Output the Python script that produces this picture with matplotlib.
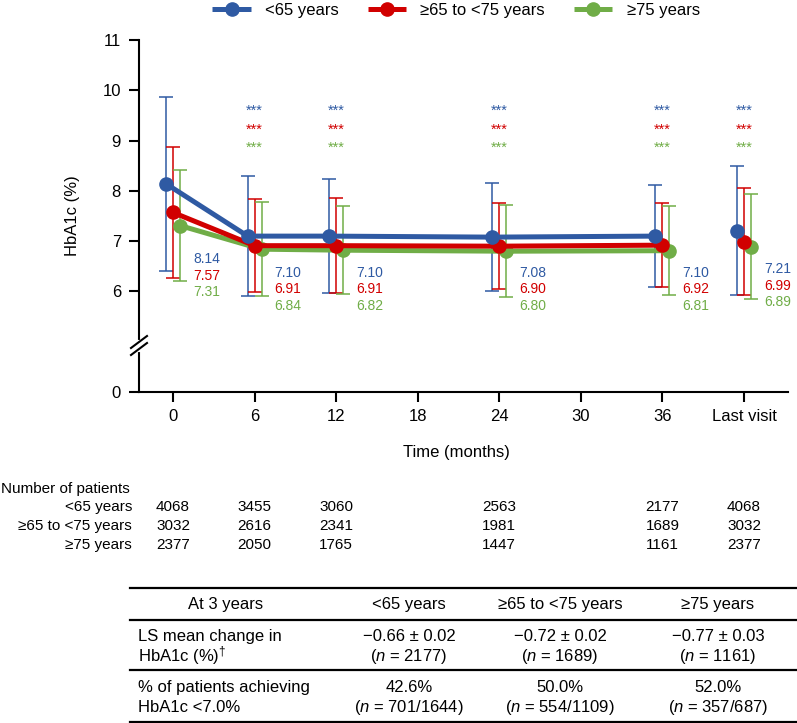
import matplotlib
matplotlib.use('Agg')
import matplotlib.pyplot as plt
import matplotlib.transforms as mtransforms
from matplotlib.lines import Line2D

plt.rcParams['font.family'] = ['Liberation Sans', 'DejaVu Sans']
plt.rcParams['mathtext.fontset'] = 'custom'
plt.rcParams['mathtext.rm'] = 'Liberation Sans'
plt.rcParams['mathtext.it'] = 'Liberation Sans:italic'

# x axis categories; data exists only for some of them
time_labels = ['0', '6', '12', '18', '24', '30', '36', 'Last visit']
visit_slots = [0, 1, 2, 4, 6, 7]

groups = ['<65 years', '≥65 to <75 years', '≥75 years']
colors = ['#2F5AA3', '#D10000', '#70AD47']

# HbA1c mean and SD (%) per visit
mean_lt65 = [8.14, 7.10, 7.10, 7.08, 7.10, 7.21]
mean_65_75 = [7.57, 6.91, 6.91, 6.90, 6.92, 6.99]
mean_ge75 = [7.31, 6.84, 6.82, 6.80, 6.81, 6.89]
sd_lt65 = [1.73, 1.19, 1.13, 1.08, 1.01, 1.28]
sd_65_75 = [1.30, 0.92, 0.94, 0.86, 0.83, 1.06]
sd_ge75 = [1.11, 0.93, 0.88, 0.92, 0.89, 1.04]

# visits marked *** (slots)
sig_slots = [1, 2, 4, 6, 7]

# number of patients
n_lt65 = [4068, 3455, 3060, 2563, 2177, 4068]
n_65_75 = [3032, 2616, 2341, 1981, 1689, 3032]
n_ge75 = [2377, 2050, 1765, 1447, 1161, 2377]

# summary table at 3 years
table_head = ['At 3 years', '<65 years', '≥65 to <75 years', '≥75 years']
ls_change = ['−0.66 ± 0.02', '−0.72 ± 0.02', '−0.77 ± 0.03']
ls_n = ['2177', '1689', '1161']
pct_goal = ['42.6%', '50.0%', '52.0%']
goal_n = ['701/1644', '554/1109', '357/687']

means = [mean_lt65, mean_65_75, mean_ge75]
sds = [sd_lt65, sd_65_75, sd_ge75]
counts = [n_lt65, n_65_75, n_ge75]

W, H = 797, 723
fig = plt.figure(figsize=(W / 100, H / 100), dpi=100)

def fx(px):
    return px / W

def fy(py):
    return 1 - py / H

ax = fig.add_axes([fx(139), fy(392), fx(788) - fx(139), fy(40) - fy(392)])
ax.set_xlim(-0.417, 7.54)
ax.set_ylim(4, 11)   # 0 is drawn at position 4 (broken axis)

offsets = [-0.085, 0.0, 0.085]
handles = []
for k in range(3):
    xs = [s + offsets[k] for s in visit_slots]
    ax.errorbar(xs, means[k], yerr=sds[k], fmt='none', ecolor=colors[k],
                elinewidth=1.1, capsize=5, capthick=1.1, zorder=2)
for k in [2, 1, 0]:
    xs = [s + offsets[k] for s in visit_slots]
    h, = ax.plot(xs[:5], means[k][:5], '-o', color=colors[k], lw=3.6, ms=9.5,
                 zorder=3 + (2 - k), solid_capstyle='butt', label=groups[k])
    ax.plot(xs[5:], means[k][5:], 'o', color=colors[k], ms=9.5, zorder=3 + (2 - k))
    handles.append(h)
handles = handles[::-1]

# value labels
label_top = [6.64, 6.37, 6.37, 6.37, 6.37, 6.44]
for i, s in enumerate(visit_slots):
    for k in range(3):
        ax.text(s + 0.245, label_top[i] - 0.33 * k, f'{means[k][i]:.2f}',
                color=colors[k], fontsize=10, ha='left', va='center')

# significance stars
star_y = [9.60, 9.22, 8.86]
for s in sig_slots:
    for k in range(3):
        ax.text(s, star_y[k], '***', color=colors[k], fontsize=10.5,
                ha='center', va='center')

ax.spines['top'].set_visible(False)
ax.spines['right'].set_visible(False)
for sp in ['left', 'bottom']:
    ax.spines[sp].set_linewidth(1.5)
ax.set_xticks(range(len(time_labels)))
ax.set_xticklabels(time_labels)
ax.set_yticks([4, 6, 7, 8, 9, 10, 11])
ax.set_yticklabels(['0', '6', '7', '8', '9', '10', '11'])
ax.tick_params(axis='both', length=7, width=1.5, labelsize=12)
ax.tick_params(axis='y', pad=6)
ax.tick_params(axis='x', pad=5)

# axis break
gap = Line2D([fx(139), fx(139)], [fy(342), fy(350)], color='white', lw=3,
             transform=fig.transFigure, zorder=5)
fig.add_artist(gap)
for yc in [342, 349]:
    fig.add_artist(Line2D([fx(131), fx(147)], [fy(yc + 6), fy(yc - 6)],
                          color='black', lw=1.5, transform=fig.transFigure,
                          zorder=6))

fig.text(fx(73), fy(216), 'HbA1c (%)', rotation=90, fontsize=12,
         ha='center', va='center')
fig.text(fx(456), fy(452), 'Time (months)', fontsize=12, ha='center', va='center')

fig.legend(handles=handles, loc='center', bbox_to_anchor=(fx(456), fy(10)),
           ncol=3, frameon=False, fontsize=12, handlelength=2.3,
           handletextpad=0.85, columnspacing=1.75, borderpad=0)

# number of patients
blend = mtransforms.blended_transform_factory(ax.transData, fig.transFigure)
fig.text(fx(1), fy(489), 'Number of patients', fontsize=11, ha='left', va='center')
row_y = [507, 526, 545]
for k in range(3):
    fig.text(fx(132), fy(row_y[k]), groups[k], fontsize=11, ha='right', va='center')
    for i, s in enumerate(visit_slots):
        ax.text(s, fy(row_y[k]), str(counts[k][i]), fontsize=11, ha='center',
                va='center', transform=blend)

# summary table
for yl in [588, 619.5, 669.5, 721.5]:
    fig.add_artist(Line2D([fx(130), fx(796)], [fy(yl), fy(yl)], color='black',
                          lw=1.6, transform=fig.transFigure))
col_x = [226, 409, 560, 718]
for j, t in enumerate(table_head):
    fig.text(fx(col_x[j]), fy(604), t, fontsize=12, ha='center', va='center')

def cell(x, y, s, ha):
    fig.text(fx(x), fy(y), s, fontsize=12, ha=ha, va='baseline')

# baselines of the two text lines in each body row
row1 = [641, 661]
row2 = [692, 712]
cell(138, row1[0], 'LS mean change in', 'left')
cell(138, row1[1], 'HbA1c (%)$^{\\dagger}$', 'left')
cell(138, row2[0], '% of patients achieving', 'left')
cell(138, row2[1], 'HbA1c <7.0%', 'left')
for j in range(3):
    cell(col_x[j + 1], row1[0], ls_change[j], 'center')
    cell(col_x[j + 1], row1[1], '($\\mathit{n}$ = ' + ls_n[j] + ')', 'center')
    cell(col_x[j + 1], row2[0], pct_goal[j], 'center')
    cell(col_x[j + 1], row2[1], '($\\mathit{n}$ = ' + goal_n[j] + ')', 'center')

fig.savefig('out.png', dpi=100)
